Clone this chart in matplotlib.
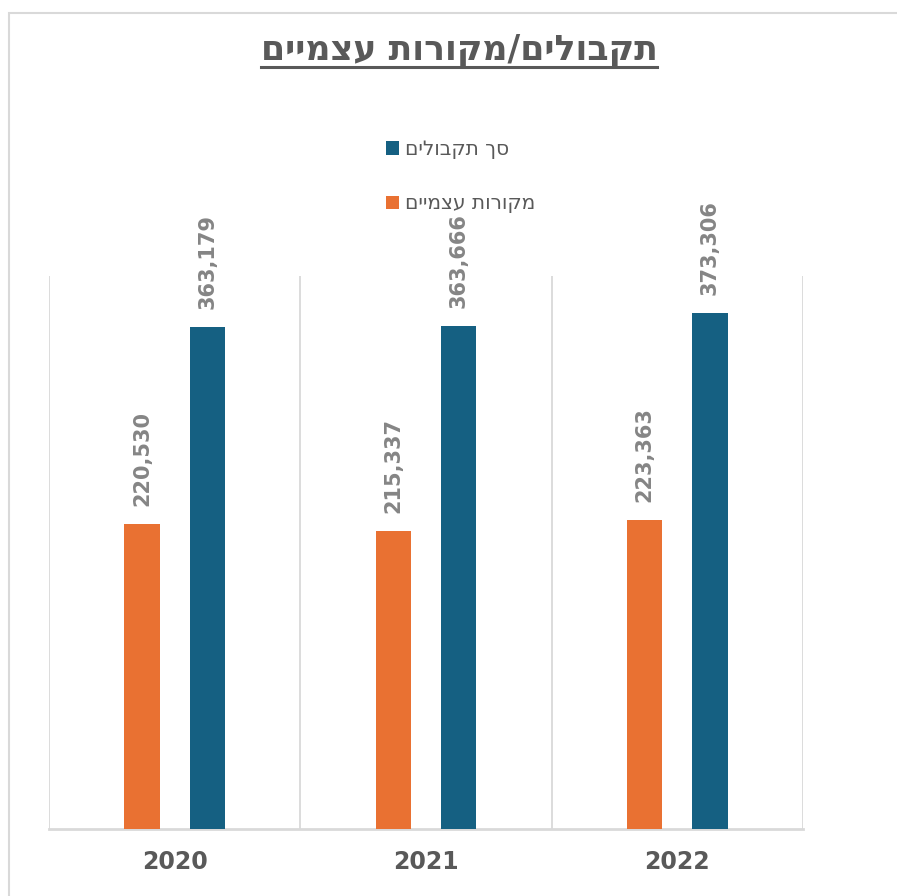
import matplotlib
matplotlib.use("Agg")
from matplotlib import pyplot as plt
from matplotlib.patches import Rectangle, Patch
from matplotlib.lines import Line2D

# data
years = ["2020", "2021", "2022"]
own_sources = [220530, 215337, 223363]       # מקורות עצמיים
total_receipts = [363179, 363666, 373306]    # סך תקבולים

title_text = "תקבולים/מקורות עצמיים"
own_label = "מקורות עצמיים"
total_label = "סך תקבולים"

ORANGE = "#E97132"
BLUE = "#156082"
TEXT = "#595959"
LABEL = "#858585"
GRID = "#D9D9D9"

plt.rcParams['font.family'] = ['DejaVu Sans']


def rtl(s):
    # matplotlib has no bidi support, so flip Hebrew for display
    return s[::-1]


fig = plt.figure(figsize=(8.97, 8.96), dpi=100)
W, H = 897, 896

# chart area border (left and top edges visible)
fig.add_artist(Rectangle((9 / W, -0.01), 1.0, (H - 13) / H + 0.01,
                         transform=fig.transFigure, fill=False,
                         edgecolor=GRID, linewidth=1.5))

ax = fig.add_axes([49 / W, 67 / H, 754 / W, 553 / H])

x = list(range(len(years)))
width = 0.14
off = 0.13
xo = [i - off for i in x]
xb = [i + off for i in x]
bars_o = ax.bar(xo, own_sources, width=width, color=ORANGE, zorder=3)
bars_b = ax.bar(xb, total_receipts, width=width, color=BLUE, zorder=3)

ax.set_xlim(-0.5, len(years) - 0.5)
ax.set_ylim(0, 400000)

# category separators
for b in [i - 0.5 for i in range(len(years) + 1)]:
    ax.axvline(b, color=GRID, linewidth=1.3, zorder=1)

for s in ["top", "left", "right"]:
    ax.spines[s].set_visible(False)
ax.spines["bottom"].set_color(GRID)
ax.spines["bottom"].set_linewidth(2)
ax.set_yticks([])
ax.set_xticks(x)
ax.set_xticklabels(years, fontsize=17, fontweight="bold", color=TEXT)
ax.tick_params(axis="x", length=0, pad=15)

for bars, vals in [(bars_o, own_sources), (bars_b, total_receipts)]:
    for r, v in zip(bars, vals):
        ax.annotate(f"{v:,}", (r.get_x() + r.get_width() / 2, v),
                    xytext=(0, 13), textcoords="offset points",
                    rotation=90, ha="center", va="bottom",
                    fontsize=15, fontweight="bold", color=LABEL)

# title with underline
t = fig.text(459 / W, 1 - 51 / H, rtl(title_text), ha="center", va="center",
             fontsize=25, fontweight="bold", color=TEXT)
fig.canvas.draw()
bb = t.get_window_extent(renderer=fig.canvas.get_renderer())
uy = 1 - 67 / H
fig.add_artist(Line2D([bb.x0 / W, bb.x1 / W], [uy, uy],
                      transform=fig.transFigure, color=TEXT, linewidth=2.2))

# legend
handles = [Patch(facecolor=BLUE), Patch(facecolor=ORANGE)]
fig.legend(handles, [rtl(total_label), rtl(own_label)],
           loc="upper left", bbox_to_anchor=(368 / W, 1 - 122 / H),
           frameon=False, fontsize=14.5, labelcolor=TEXT,
           handlelength=0.65, handleheight=0.65, handletextpad=0.3,
           labelspacing=1.75)

fig.savefig("out.png", dpi=100)
